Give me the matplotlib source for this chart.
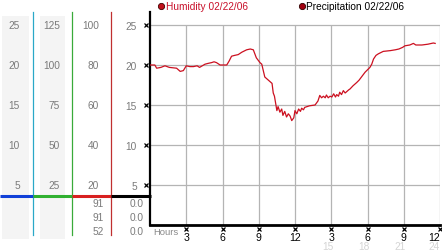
import matplotlib
matplotlib.use("Agg")
import matplotlib.pyplot as plt
from matplotlib.patches import Rectangle

plt.rcParams['font.family'] = ['Liberation Sans', 'DejaVu Sans']

# ---------------- data ----------------
hours = [0.0, 0.4, 0.55, 0.9, 1.24, 1.6, 2.2, 2.5, 2.76, 3.0, 3.3, 3.6, 3.9, 4.1,
         4.55, 4.8, 5.1, 5.3, 5.5, 5.8, 6.1, 6.35, 6.55, 6.75, 7.0, 7.3, 7.6, 8.0,
         8.3, 8.55, 8.8, 9.1, 9.25, 9.5, 9.8, 10.1, 10.2, 10.3, 10.5, 10.6, 10.75,
         10.9, 11.0, 11.15, 11.3, 11.45, 11.6, 11.73, 11.9, 12.0, 12.15, 12.3,
         12.45, 12.55, 12.7, 12.8, 13.0, 13.2, 13.66, 13.9, 14.05, 14.2, 14.35,
         14.5, 14.6, 14.75, 14.9, 15.05, 15.2, 15.35, 15.45, 15.6, 15.7, 15.85,
         16.0, 16.15, 16.3, 16.45, 16.55, 16.8, 17.1, 17.3, 17.5, 17.8, 18.0,
         18.2, 18.35, 18.5, 18.7, 18.9, 19.3, 19.9, 20.3, 20.6, 20.9, 21.1, 21.5,
         21.8, 22.0, 22.5, 23.0, 23.45, 23.6]
humidity = [20.0, 20.0, 19.6, 19.7, 19.9, 19.7, 19.6, 19.2, 19.3, 19.9, 19.8, 19.8,
            19.9, 19.7, 20.1, 20.2, 20.3, 20.4, 20.3, 20.0, 20.0, 20.0, 20.5, 21.1,
            21.2, 21.3, 21.6, 21.9, 22.0, 21.9, 20.9, 20.3, 20.1, 18.5, 18.1, 17.7,
            16.5, 16.1, 14.3, 14.8, 14.1, 14.5, 13.7, 14.2, 13.5, 13.9, 13.6, 13.05,
            13.4, 14.3, 13.9, 14.5, 14.2, 14.6, 14.4, 14.7, 14.8, 14.9, 15.0, 15.5,
            16.2, 15.9, 16.1, 15.9, 16.25, 15.9, 16.1, 16.0, 16.4, 16.0, 16.3, 16.1,
            16.6, 16.3, 16.8, 16.5, 16.7, 16.9, 17.0, 17.4, 17.8, 18.1, 18.5, 19.1,
            19.4, 19.7, 20.1, 20.75, 21.2, 21.4, 21.7, 21.8, 21.9, 22.0, 22.2, 22.4,
            22.5, 22.7, 22.5, 22.5, 22.6, 22.75, 22.7]

y_levels = [25, 20, 15, 10, 5]
col1_labels = ["25", "20", "15", "10", "5"]
col2_labels = ["125", "100", "75", "50", "25"]
col3_labels = ["100", "80", "60", "40", "20"]
y_tick_labels = ["25", "20", "15", "10", "5"]
col3_readings = ["91", "91", "52"]
col4_readings = ["0.0", "0.0", "0.0"]
reading_levels = [2.75, 1.0, -0.75]

x_ticks = [3, 6, 9, 12, 15, 18, 21, 24]
x_tick_labels = ["3", "6", "9", "12", "3", "6", "9", "12"]
x_sub_ticks = [15, 18, 21, 24]
x_sub_labels = ["15", "18", "21", "24"]

legend_labels = ["Humidity 02/22/06", "Precipitation 02/22/06"]

# ---------------- figure ----------------
W, H = 442, 253
fig = plt.figure(figsize=(W / 100, H / 100), dpi=100)
fig.patch.set_facecolor("white")

# background overlay in pixel-x, value-y coordinates (same y mapping as main axes)
bg = fig.add_axes([0, 0, 1, 1], zorder=0)
bg.set_xlim(0, W)
bg.set_ylim(28.25 - H / 8, 28.25)
bg.axis("off")

FS = 7.3
grey_txt = "#7a7a7a"

# gray bands
bg.add_patch(Rectangle((2, -1.75), 27, 28.75 - 0.875, color="#f4f4f4", lw=0))
bg.add_patch(Rectangle((40, -1.75), 25, 28.75 - 0.875, color="#f4f4f4", lw=0))

# column separators
top_v, bot_v = 26.6, -1.25
bg.plot([33, 33], [bot_v, top_v], color="#2aa8c8", lw=0.9)
bg.plot([72, 72], [bot_v, top_v], color="#3aaa3a", lw=0.9)
bg.plot([111, 111], [bot_v, top_v], color="#c03030", lw=0.9)

# base colour strip
base_v = 3.6
bg.plot([0, 33], [base_v, base_v], color="#1040d8", lw=2.2, solid_capstyle="butt")
bg.plot([33, 72], [base_v, base_v], color="#30b030", lw=2.2, solid_capstyle="butt")
bg.plot([72, 111], [base_v, base_v], color="#d82020", lw=2.2, solid_capstyle="butt")
bg.plot([111, 151], [base_v, base_v], color="black", lw=2.2, solid_capstyle="butt")

for v, a, b, c in zip(y_levels, col1_labels, col2_labels, col3_labels):
    bg.text(20, v, a, ha="right", va="center", fontsize=FS, color=grey_txt)
    bg.text(60, v, b, ha="right", va="center", fontsize=FS, color=grey_txt)
    bg.text(99, v, c, ha="right", va="center", fontsize=FS, color=grey_txt)

for v, a, b in zip(reading_levels, col3_readings, col4_readings):
    bg.text(104, v, a, ha="right", va="center", fontsize=FS, color=grey_txt)
    bg.text(144, v, b, ha="right", va="center", fontsize=FS, color=grey_txt)

# legend
leg_v = 28.25 - 7 / 8
bg.plot([161], [leg_v], marker="o", ms=4.5, mfc="#c0101a", mec="#400000", mew=0.6)
bg.text(165.5, leg_v, legend_labels[0], ha="left", va="center", fontsize=FS, color="#c8102a")
bg.plot([301.5], [leg_v], marker="o", ms=4.5, mfc="#a00010", mec="#300000", mew=0.6)
bg.text(306, leg_v, legend_labels[1], ha="left", va="center", fontsize=FS, color="black")

# ---------------- main axes ----------------
ax = fig.add_axes([150 / W, 27 / H, 290 / W, 212.8 / H], zorder=1)
ax.patch.set_alpha(0)
ax.set_xlim(0, 24)
ax.set_ylim(0, 26.6)

ax.hlines(y_levels, 0, 24, color="#b4b4b4", lw=0.9, zorder=1)
ax.vlines(x_ticks, 0, 25, color="#b4b4b4", lw=0.9, zorder=1)

ax.plot(hours, humidity, color="#cc1020", lw=0.9, zorder=3)

for s in ["top", "right"]:
    ax.spines[s].set_visible(False)
ax.spines["left"].set_linewidth(1.6)
ax.spines["bottom"].set_linewidth(2.0)
ax.spines["left"].set_color("black")
ax.spines["bottom"].set_color("black")

ax.set_yticks(y_levels)
ax.set_yticklabels(y_tick_labels, fontsize=FS, color=grey_txt)
ax.tick_params(axis="y", length=0, pad=9.5)

ax.set_xticks(x_ticks)
ax.set_xticklabels(x_tick_labels, fontsize=FS + 0.3, color="black")
ax.tick_params(axis="x", length=0, pad=4.8)
ax.get_xticklabels()[-1].set_horizontalalignment("right")

# small tick marks
ax.plot([-4 / 290] * len(y_levels), y_levels, ls="none", marker="x", ms=2.5,
        mew=0.9, color="black", transform=ax.get_yaxis_transform(), clip_on=False)
ax.plot(x_ticks, [-4.0 / 212.8] * len(x_ticks), ls="none", marker="x", ms=2.3,
        mew=0.9, color="black", transform=ax.get_xaxis_transform(), clip_on=False)

for xv, lab in zip(x_sub_ticks, x_sub_labels):
    ha = "right" if xv == x_sub_ticks[-1] else "center"
    xo = 0.0 if xv == x_sub_ticks[-1] else -0.3
    ax.text(xv + xo, -21 / 212.8, lab, ha=ha, va="center", fontsize=FS,
            color="#d4d4d4", transform=ax.get_xaxis_transform(), clip_on=False)

ax.text(0.25, -6.5 / 212.8, "Hours", ha="left", va="center", fontsize=6.8,
        color="#8a8a8a", transform=ax.get_xaxis_transform(), clip_on=False)

fig.savefig("out.png", dpi=100)
